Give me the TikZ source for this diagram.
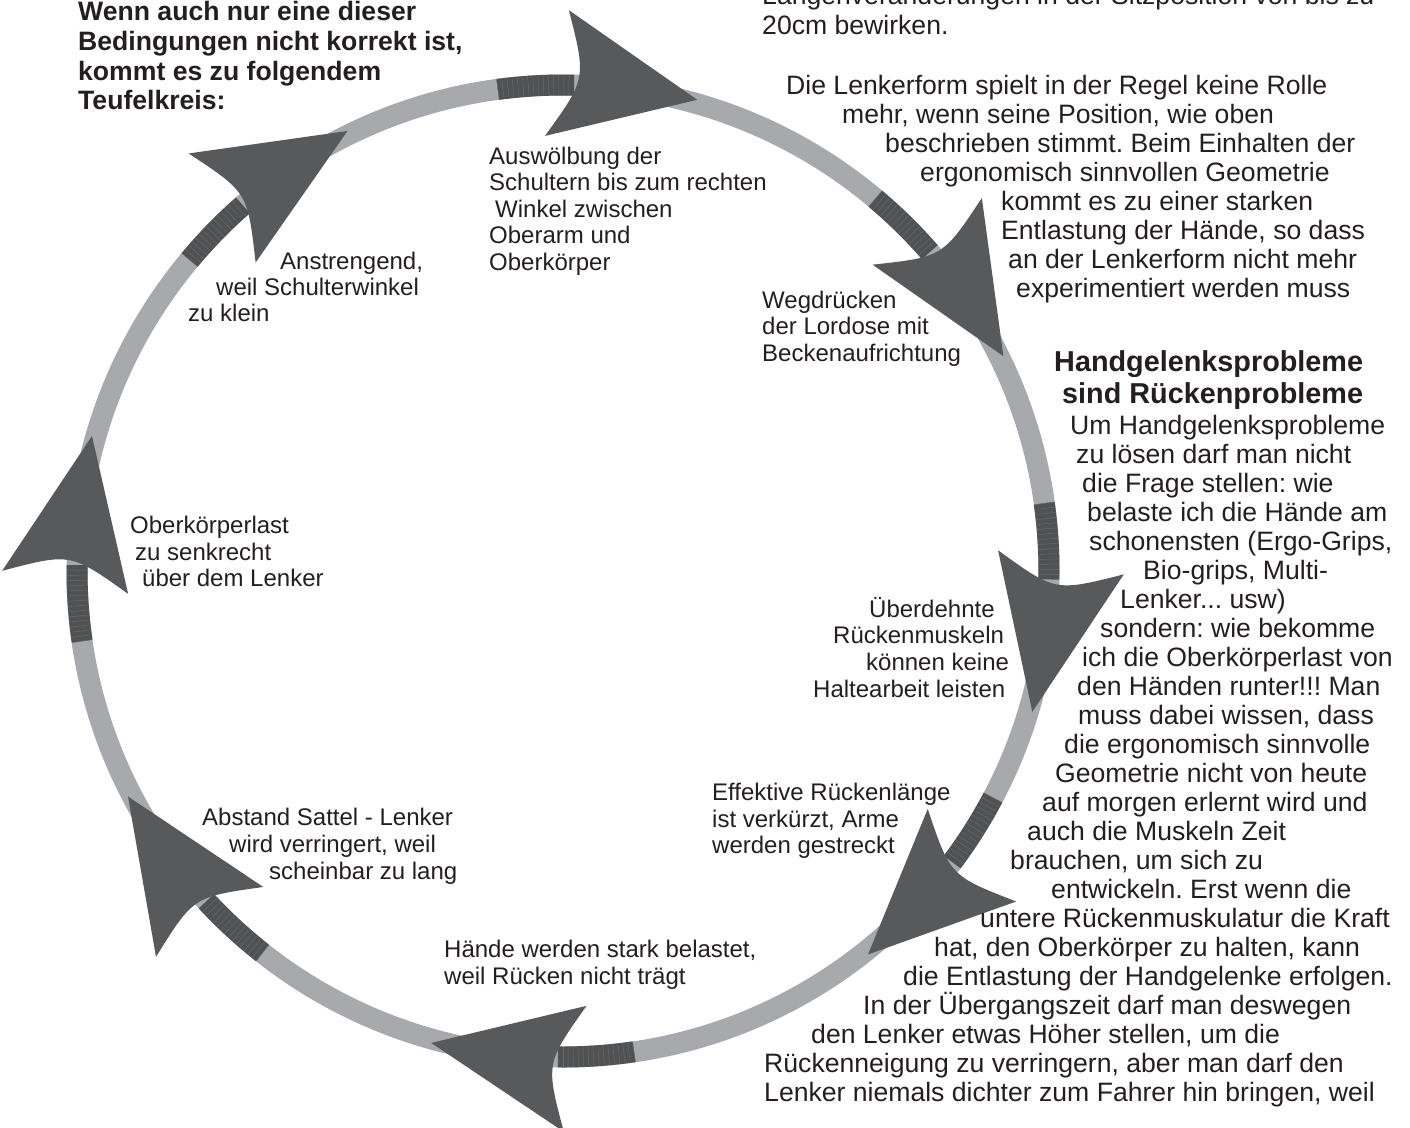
\documentclass[tikz,border=0pt]{standalone}
\usepackage{fontspec}
\setmainfont{Liberation Sans}
\usetikzlibrary{calc}
\definecolor{ringgray}{HTML}{A7A9AC}
\definecolor{headgray}{HTML}{58595B}
\definecolor{seggray}{HTML}{505153}
\definecolor{hatchgray}{HTML}{68696B}
\definecolor{txt}{HTML}{231F20}
\newcommand\cycarrow[3]{%
  \pgfmathsetmacro\cyA{#2-7}\pgfmathsetmacro\cyB{#2+2}%
  \draw[seg] plot[domain=\cyA:\cyB, samples=14] (\x:486);
  \foreach \hh in {0,...,14} {
    \pgfmathsetmacro\cyH{\cyA+0.6*\hh}
    \draw[hatch] (\cyH:476) -- (\cyH:496);
  }
  \coordinate (#1bm) at (#2:498);
  \coordinate (#1tp) at (#3:490);
  \coordinate (#1ca) at ($(#1bm)!64pt!90:(#1tp)$);
  \coordinate (#1cb) at ($(#1bm)!64pt!-90:(#1tp)$);
  \coordinate (#1ct) at ($(#1bm)!30pt!(#1tp)$);
  \fill[head] (#1ca) -- (#1tp) -- (#1cb) .. controls (#1ct) .. (#1ca) -- cycle;
}
\begin{document}
\frenchspacing
\begin{tikzpicture}[x=1pt,y=-1pt,
  ringline/.style={draw=ringgray,line width=21pt},
  seg/.style={draw=seggray,line width=21pt},
  hatch/.style={draw=hatchgray,line width=0.5pt},
  head/.style={fill=headgray},
  para/.style={anchor=base west,inner sep=0pt,text=txt,font=\fontsize{26.6}{29}\selectfont},
  lab/.style={anchor=base west,inner sep=0pt,text=txt,font=\fontsize{24}{26.5}\selectfont},
  ttl/.style={anchor=base west,inner sep=0pt,text=txt,font=\bfseries\fontsize{26.6}{29.4}\selectfont},
  hd/.style={anchor=base west,inner sep=0pt,text=txt,font=\bfseries\fontsize{28.8}{32}\selectfont}]
\useasboundingbox (0,0) rectangle (1410,1127);
\clip (0,0) rectangle (1410,1127);
\fill[white] (0,0) rectangle (1410,1127);

% ring with arrows
\begin{scope}[shift={(563,571)}]
  \coordinate (C) at (0,0);
  \draw[ringline] (C) circle[radius=486];
  \cycarrow{top}{-90.7}{-74.1}
  \cycarrow{ur}{-43.0}{-26.0}
  \cycarrow{rt}{-1.0}{16.7}
  \cycarrow{lr}{34.8}{51.5}
  \cycarrow{bt}{88.6}{105.6}
  \cycarrow{ll}{135.2}{152.6}
  \cycarrow{lf}{178.7}{196.0}
  \cycarrow{ul}{226.8}{243.9}
\end{scope}

% title
\foreach \px/\py/\tx [count=\i] in {
  78/20/{Wenn auch nur eine dieser},
  78/50/{Bedingungen nicht korrekt ist,},
  78/80/{kommt es zu folgendem},
  78/109/{Teufelkreis:}}
  \node[ttl] (ti\i) at (\px,\py) {\tx};

% top right paragraph
\foreach \px/\py/\tx [count=\i] in {
  762/5/{Längenveränderungen in der Sitzposition von bis zu},
  762/34/{20cm bewirken.},
  786/94/{Die Lenkerform spielt in der Regel keine Rolle},
  842/123/{mehr, wenn seine Position, wie oben},
  885/152/{beschrieben stimmt. Beim Einhalten der},
  920/181/{ergonomisch sinnvollen Geometrie},
  1001/210/{kommt es zu einer starken},
  1001/239/{Entlastung der Hände, so dass},
  1008/268/{an der Lenkerform nicht mehr},
  1016/297/{experimentiert werden muss}}
  \node[para] (tr\i) at (\px,\py) {\tx};

% heading
\node[hd] (hd1) at (1054,371) {Handgelenksprobleme};
\node[hd] (hd2) at (1062,403) {sind Rückenprobleme};

% right paragraph
\foreach \px/\py/\tx [count=\i] in {
  1070/434/{Um Handgelenksprobleme},
  1076/463/{zu lösen darf man nicht},
  1082/492/{die Frage stellen: wie},
  1087/521/{belaste ich die Hände am},
  1089/550/{schonensten (Ergo-Grips,},
  1143/579/{Bio-grips, Multi-},
  1120/608/{Lenker... usw)},
  1100/637/{sondern: wie bekomme},
  1082/666/{ich die Oberkörperlast von},
  1077/695/{den Händen runter!!! Man},
  1078/724/{muss dabei wissen, dass},
  1064/753/{die ergonomisch sinnvolle},
  1055/782/{Geometrie nicht von heute},
  1042/811/{auf morgen erlernt wird und},
  1027/840/{auch die Muskeln Zeit},
  1010/869/{brauchen, um sich zu},
  1051/898/{entwickeln. Erst wenn die},
  980/927/{untere Rückenmuskulatur die Kraft},
  934/956/{hat, den Oberkörper zu halten, kann},
  903/985/{die Entlastung der Handgelenke erfolgen.},
  863/1014/{In der Übergangszeit darf man deswegen},
  811/1043/{den Lenker etwas Höher stellen, um die},
  764/1072/{Rückenneigung zu verringern, aber man darf den},
  764/1101/{Lenker niemals dichter zum Fahrer hin bringen, weil}}
  \node[para] (rp\i) at (\px,\py) {\tx};

% labels inside the cycle
\foreach \px/\py/\tx [count=\i] in {
  489/164/{Auswölbung der},
  489/190.5/{Schultern bis zum rechten},
  495/217/{Winkel zwischen},
  489/243.5/{Oberarm und},
  489/270/{Oberkörper}}
  \node[lab] (la\i) at (\px,\py) {\tx};

\foreach \px/\py/\tx [count=\i] in {
  280/269/{Anstrengend,},
  216/295/{weil Schulterwinkel},
  188/321/{zu klein}}
  \node[lab] (lb\i) at (\px,\py) {\tx};

\foreach \px/\py/\tx [count=\i] in {
  762/308/{Wegdrücken},
  762/334.5/{der Lordose mit},
  762/361/{Beckenaufrichtung}}
  \node[lab] (lc\i) at (\px,\py) {\tx};

\foreach \px/\py/\tx [count=\i] in {
  869/617/{Überdehnte},
  833/643/{Rückenmuskeln},
  866/670/{können keine},
  813/697/{Haltearbeit leisten}}
  \node[lab] (ld\i) at (\px,\py) {\tx};

\foreach \px/\py/\tx [count=\i] in {
  712/800/{Effektive Rückenlänge},
  712/827/{ist verkürzt, Arme},
  712/853/{werden gestreckt}}
  \node[lab] (le\i) at (\px,\py) {\tx};

\foreach \px/\py/\tx [count=\i] in {
  444/957/{Hände werden stark belastet,},
  444/984/{weil Rücken nicht trägt}}
  \node[lab] (lf\i) at (\px,\py) {\tx};

\foreach \px/\py/\tx [count=\i] in {
  202/825/{Abstand Sattel - Lenker},
  229/852/{wird verringert, weil},
  269/879/{scheinbar zu lang}}
  \node[lab] (lg\i) at (\px,\py) {\tx};

\foreach \px/\py/\tx [count=\i] in {
  130/533/{Oberkörperlast},
  135/560/{zu senkrecht},
  142/586/{über dem Lenker}}
  \node[lab] (lh\i) at (\px,\py) {\tx};

\end{tikzpicture}
\end{document}
